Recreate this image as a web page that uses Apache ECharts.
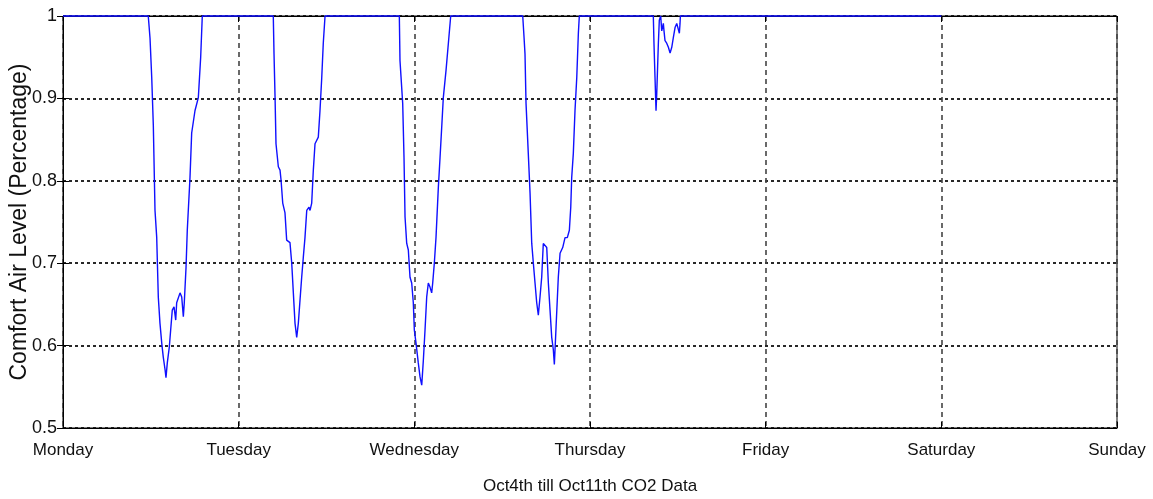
<!DOCTYPE html>
<html>
<head>
<meta charset="utf-8">
<script src="https://cdn.jsdelivr.net/npm/echarts@6/dist/echarts.min.js"></script>
<style>
  html, body { margin: 0; padding: 0; background: #fff; }
  #chart { width: 1153px; height: 499px; }
</style>
</head>
<body>
<div id="chart"></div>
<script>
// day labels for the x axis (one tick every 24 h)
var days = ['Monday', 'Tuesday', 'Wednesday', 'Thursday', 'Friday', 'Saturday', 'Sunday'];

// hours since Monday 00:00 and comfort level, one pair of arrays per dip
var dip1Hours = [11.65, 11.89, 12.12, 12.34, 12.57, 12.8, 13.02, 13.25, 13.49, 13.7, 13.94, 14.07, 14.25, 14.52, 14.71, 14.93, 15.17, 15.4, 15.53, 15.99, 16.22, 16.44, 16.57, 16.81, 16.98, 17.35, 17.58, 18.03, 18.49, 18.81, 19.03];
var dip1Values = [1, 0.973, 0.926, 0.867, 0.764, 0.732, 0.659, 0.627, 0.603, 0.586, 0.571, 0.561, 0.579, 0.598, 0.619, 0.643, 0.647, 0.631, 0.652, 0.664, 0.659, 0.635, 0.652, 0.695, 0.74, 0.804, 0.858, 0.885, 0.901, 0.95, 1];

var dip2Hours = [28.73, 28.83, 28.97, 29.1, 29.42, 29.65, 29.79, 30.02, 30.33, 30.56, 31.01, 31.25, 31.47, 31.7, 31.93, 32.15, 32.38, 32.61, 32.83, 33.06, 33.3, 33.61, 33.75, 33.98, 34.2, 34.43, 34.88, 35.11, 35.35, 35.56, 35.8];
var dip2Values = [1, 0.954, 0.902, 0.845, 0.817, 0.813, 0.801, 0.773, 0.761, 0.728, 0.725, 0.7, 0.664, 0.627, 0.61, 0.627, 0.655, 0.683, 0.707, 0.731, 0.764, 0.768, 0.764, 0.773, 0.813, 0.845, 0.853, 0.885, 0.925, 0.967, 1];

var dip3Hours = [45.95, 46.04, 46.41, 46.59, 46.73, 46.96, 47.18, 47.41, 47.64, 47.86, 48.0, 48.23, 48.54, 48.78, 49.01, 49.23, 49.46, 49.69, 49.91, 50.14, 50.37, 50.51, 50.73, 50.96, 51.28, 51.51, 51.74, 51.96, 52.33, 52.65, 52.97];
var dip3Values = [1, 0.946, 0.894, 0.828, 0.756, 0.724, 0.716, 0.683, 0.676, 0.652, 0.619, 0.603, 0.579, 0.562, 0.552, 0.582, 0.619, 0.659, 0.676, 0.671, 0.664, 0.676, 0.7, 0.731, 0.792, 0.828, 0.865, 0.901, 0.934, 0.967, 1];

var dip4Hours = [62.81, 62.99, 63.12, 63.26, 63.57, 63.81, 64.04, 64.26, 64.49, 64.72, 64.94, 65.17, 65.4, 65.62, 65.85, 66.09, 66.31, 66.54, 66.77, 66.99, 67.13, 67.36, 67.67, 67.91, 68.27, 68.59, 68.9, 69.18, 69.37, 69.5, 69.72, 69.95, 70.19, 70.41, 70.54];
var dip4Values = [1, 0.974, 0.954, 0.894, 0.833, 0.785, 0.724, 0.7, 0.676, 0.652, 0.637, 0.659, 0.683, 0.724, 0.722, 0.719, 0.676, 0.643, 0.61, 0.595, 0.577, 0.622, 0.683, 0.712, 0.719, 0.731, 0.731, 0.74, 0.768, 0.804, 0.833, 0.885, 0.925, 0.979, 1];

var dip5Hours = [80.65, 80.74, 80.88, 81.02, 81.12, 81.34, 81.47, 81.66, 81.8, 82.02, 82.11, 82.25, 82.48, 82.71, 82.94, 83.17, 83.39, 83.62, 83.85, 84.07, 84.21, 84.3, 84.35];
var dip5Values = [1, 0.967, 0.926, 0.885, 0.906, 0.967, 0.995, 1, 0.982, 0.991, 0.982, 0.97, 0.967, 0.962, 0.955, 0.962, 0.974, 0.986, 0.991, 0.991, 0.979, 0.991, 1];

// data stops at Saturday 00:00
var startHour = 0, endHour = 120;

var seriesData = [[startHour, 1]];
[[dip1Hours, dip1Values], [dip2Hours, dip2Values], [dip3Hours, dip3Values],
 [dip4Hours, dip4Values], [dip5Hours, dip5Values]].forEach(function (d) {
    for (var i = 0; i < d[0].length; i++) {
        seriesData.push([d[0][i], d[1][i]]);
    }
});
seriesData.push([endHour, 1]);

var myChart = echarts.init(document.getElementById('chart'));
var labelFont = "'Liberation Sans', Arial, sans-serif";

var option = {
    animation: false,
    grid: {
        left: 63, right: 36, top: 16, bottom: 71,
        outerBoundsMode: 'none',
        containLabel: false,
        show: true, borderColor: '#000', borderWidth: 1
    },
    xAxis: [{
        type: 'value',
        min: 0, max: 144, interval: 24,
        name: 'Oct4th till Oct11th CO2 Data',
        nameLocation: 'middle',
        nameGap: 50,
        nameMoveOverlap: false,
        nameTextStyle: { fontFamily: labelFont, fontSize: 17, color: '#111' },
        axisLine: { lineStyle: { color: '#000' } },
        axisTick: { inside: true, length: 6, lineStyle: { color: '#000' } },
        axisLabel: {
            margin: 14, fontFamily: labelFont, fontSize: 17, color: '#111',
            formatter: function (v) { return days[Math.round(v / 24)]; }
        },
        splitLine: { show: true, lineStyle: { color: '#444', type: [5, 4], width: 1.6 } }
    }, {
        type: 'value', position: 'top',
        min: 0, max: 144, interval: 24,
        axisLine: { show: true, lineStyle: { color: '#000' } },
        axisTick: { inside: true, length: 6, lineStyle: { color: '#000' } },
        axisLabel: { show: false },
        splitLine: { show: false }
    }],
    yAxis: [{
        type: 'value',
        min: 0.5, max: 1, interval: 0.1,
        name: 'Comfort Air Level (Percentage)',
        nameLocation: 'middle',
        nameGap: 32,
        nameMoveOverlap: false,
        nameTextStyle: { fontFamily: labelFont, fontSize: 23, color: '#111' },
        axisLine: { show: true, lineStyle: { color: '#000' } },
        axisTick: { show: true, inside: true, length: 6, lineStyle: { color: '#000' } },
        axisLabel: {
            margin: 6, fontFamily: labelFont, fontSize: 18, color: '#111',
            formatter: function (v) { return Math.round(v * 10) / 10 + ''; }
        },
        splitLine: { show: true, lineStyle: { color: '#111', type: [3, 3], width: 1.8 } }
    }, {
        type: 'value', position: 'right',
        min: 0.5, max: 1, interval: 0.1,
        axisLine: { show: true, lineStyle: { color: '#000' } },
        axisTick: { show: true, inside: true, length: 6, lineStyle: { color: '#000' } },
        axisLabel: { show: false },
        splitLine: { show: false }
    }],
    series: [{
        type: 'line',
        data: seriesData,
        showSymbol: false,
        lineStyle: { color: '#1010ff', width: 1.4 },
        clip: false
    }]
};

myChart.setOption(option);
window.addEventListener('resize', function () { myChart.resize(); });
</script>
</body>
</html>
